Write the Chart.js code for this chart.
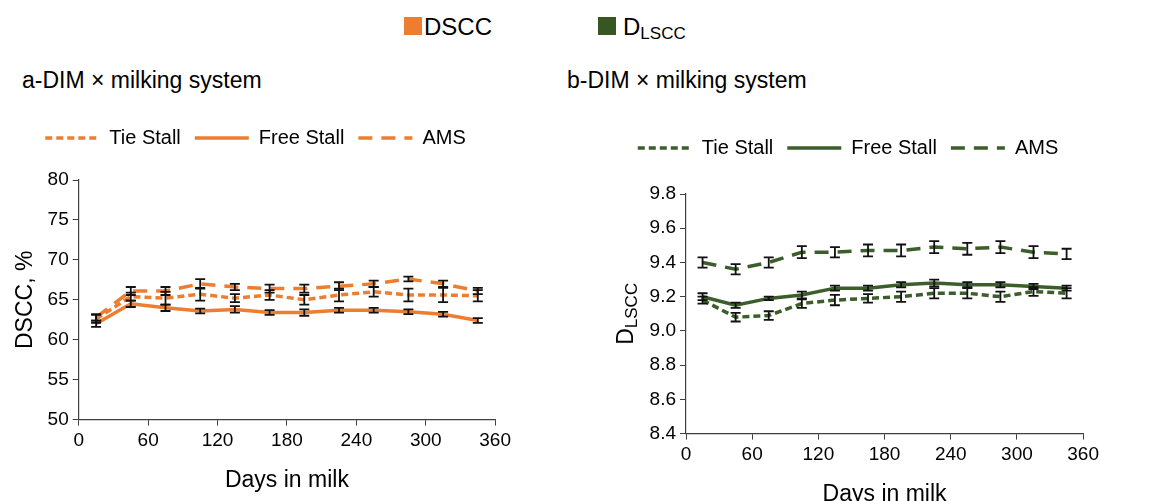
<!DOCTYPE html>
<html>
<head>
<meta charset="utf-8">
<script src="https://cdn.jsdelivr.net/npm/chart.js@4.4.1/dist/chart.umd.min.js"></script>
<style>
  body { margin: 0; background: #fff; font-family: "Liberation Sans", Arial, sans-serif; color: #000; overflow: hidden; }
  #page { position: relative; width: 1161px; height: 501px; overflow: hidden; }
  .box { position: absolute; }
  .sq { position: absolute; width: 18px; height: 18px; }
  .lbl { position: absolute; font-size: 24px; line-height: 24px; }
  .lbl sub { font-size: 17px; vertical-align: -4px; }
  .title { position: absolute; font-size: 23px; line-height: 26px; }
</style>
</head>
<body>
<div id="page">
  <div class="sq" style="left:404px;top:17px;background:#ED7D31"></div>
  <div class="lbl" style="left:424px;top:15px">DSCC</div>
  <div class="sq" style="left:598px;top:17px;background:#375623"></div>
  <div class="lbl" style="left:623px;top:15px">D<sub>LSCC</sub></div>

  <div class="title" style="left:22px;top:67px">a-DIM × milking system</div>
  <div class="title" style="left:567px;top:67px">b-DIM × milking system</div>

  <div class="box" style="left:0px;top:114px;width:515px;height:392px"><canvas id="chartA"></canvas></div>
  <div class="box" style="left:593px;top:124px;width:510px;height:396px"><canvas id="chartB"></canvas></div>
</div>
<script>
// days in milk (midpoints of 30-day intervals)
const dim = [15, 45, 75, 105, 135, 165, 195, 225, 255, 285, 315, 345];
const xTicks = [0, 60, 120, 180, 240, 300, 360];

// a - DSCC, %
const dsccTie  = [62.6, 65.4, 65.2, 65.7, 65.2, 65.6, 65.0, 65.6, 66.0, 65.6, 65.6, 65.5];
const dsccTieSe = [0.5, 0.5, 0.8, 0.8, 0.5, 0.6, 0.6, 0.8, 0.6, 0.8, 0.9, 0.7];
const dsccFree = [62.0, 64.5, 64.0, 63.6, 63.8, 63.4, 63.4, 63.7, 63.7, 63.5, 63.2, 62.4];
const dsccFreeSe = [0.4, 0.4, 0.4, 0.3, 0.4, 0.3, 0.4, 0.3, 0.3, 0.3, 0.3, 0.3];
const dsccAms  = [62.8, 66.1, 66.1, 67.0, 66.6, 66.4, 66.4, 66.7, 67.0, 67.6, 67.0, 66.1];
const dsccAmsSe = [0.4, 0.5, 0.5, 0.6, 0.4, 0.5, 0.5, 0.5, 0.4, 0.3, 0.4, 0.4];

// b - DLSCC
const dlsccTie  = [9.18, 9.08, 9.09, 9.16, 9.18, 9.19, 9.20, 9.22, 9.22, 9.20, 9.23, 9.22];
const dlsccTieSe = [0.02, 0.025, 0.025, 0.025, 0.03, 0.025, 0.03, 0.03, 0.03, 0.03, 0.025, 0.03];
const dlsccFree = [9.20, 9.15, 9.19, 9.21, 9.25, 9.25, 9.27, 9.28, 9.27, 9.27, 9.26, 9.25];
const dlsccFreeSe = [0.02, 0.015, 0.01, 0.02, 0.015, 0.015, 0.015, 0.02, 0.015, 0.015, 0.015, 0.015];
const dlsccAms  = [9.40, 9.36, 9.40, 9.46, 9.46, 9.47, 9.47, 9.49, 9.48, 9.49, 9.46, 9.45];
const dlsccAmsSe = [0.03, 0.03, 0.03, 0.035, 0.03, 0.035, 0.035, 0.035, 0.035, 0.035, 0.035, 0.03];

const orange = '#ED7D31';
const green = '#3B5E2B';
const axisColor = '#404040';
const font = "'Liberation Sans', Arial, sans-serif";

function pts(values) {
    return values.map((v, i) => ({ x: dim[i], y: v }));
}

function makeSet(label, values, se, color, dash) {
    return {
        label: label,
        data: pts(values),
        errors: se,
        borderColor: color,
        backgroundColor: color,
        borderWidth: 3.5,
        borderDash: dash,
        pointRadius: 0,
        pointStyle: 'line',
        tension: 0,
    };
}

// legend lines keep the dash of their dataset
function dashedLabels(chart) {
    const items = Chart.defaults.plugins.legend.labels.generateLabels(chart);
    return items.map(item => {
        const ds = chart.data.datasets[item.datasetIndex];
        item.lineDash = ds.borderDash;
        item.lineWidth = 3.5;
        item.strokeStyle = ds.borderColor;
        return item;
    });
}

// draws the standard error bars with caps
const errorBars = {
    id: 'errorBars',
    afterDatasetsDraw(chart) {
        const ctx = chart.ctx;
        const xs = chart.scales.x;
        const ys = chart.scales.y;
        ctx.save();
        ctx.strokeStyle = '#111';
        ctx.lineWidth = 1.8;
        ctx.setLineDash([]);
        chart.data.datasets.forEach(ds => {
            ds.data.forEach((p, i) => {
                const e = ds.errors[i];
                const px = xs.getPixelForValue(p.x);
                const top = ys.getPixelForValue(p.y + e);
                const bot = ys.getPixelForValue(p.y - e);
                ctx.beginPath();
                ctx.moveTo(px, top); ctx.lineTo(px, bot);
                ctx.moveTo(px - 5, top); ctx.lineTo(px + 5, top);
                ctx.moveTo(px - 5, bot); ctx.lineTo(px + 5, bot);
                ctx.stroke();
            });
        });
        ctx.restore();
    }
};

// extra room under the legend
const legendGap = {
    id: 'legendGap',
    beforeInit(chart) {
        const fit = chart.legend.fit;
        chart.legend.fit = function () {
            fit.bind(chart.legend)();
            this.height += chart.options.plugins.legendGap.gap;
        };
    }
};

// y title with subscript for chart b
const subTitle = {
    id: 'subTitle',
    afterDraw(chart) {
        const opts = chart.options.plugins.subTitle;
        if (!opts || !opts.main) return;
        const ctx = chart.ctx;
        const area = chart.chartArea;
        ctx.save();
        ctx.translate(opts.x, (area.top + area.bottom) / 2);
        ctx.rotate(-Math.PI / 2);
        ctx.fillStyle = '#000';
        ctx.textBaseline = 'alphabetic';
        ctx.font = '23px ' + font;
        const w1 = ctx.measureText(opts.main).width;
        ctx.font = '17px ' + font;
        const w2 = ctx.measureText(opts.sub).width;
        const start = -(w1 + w2) / 2;
        ctx.font = '23px ' + font;
        ctx.fillText(opts.main, start, 8);
        ctx.font = '17px ' + font;
        ctx.fillText(opts.sub, start + w1, 12);
        ctx.restore();
    }
};

function makeOptions(yMin, yMax, yStep, yTitle, gap, padLeft, padRight, decimals, yWidth) {
    return {
        responsive: true,
        maintainAspectRatio: false,
        animation: false,
        layout: { padding: { top: 0, left: padLeft, right: padRight, bottom: 8 } },
        plugins: {
            legend: {
                position: 'top',
                labels: {
                    usePointStyle: true,
                    pointStyle: 'line',
                    pointStyleWidth: 54,
                    boxWidth: 54,
                    boxHeight: 20,
                    padding: 14,
                    color: '#000',
                    font: { family: font, size: 20 },
                    generateLabels: dashedLabels,
                },
            },
            tooltip: { enabled: false },
            legendGap: { gap: gap },
        },
        scales: {
            x: {
                type: 'linear',
                min: 0,
                max: 360,
                afterBuildTicks(axis) { axis.ticks = xTicks.map(v => ({ value: v })); },
                grid: { drawOnChartArea: false, color: axisColor, tickLength: 6 },
                border: { color: axisColor, width: 1.2 },
                ticks: { color: '#000', font: { family: font, size: 19 }, padding: 4, maxRotation: 0 },
                title: { display: true, text: 'Days in milk', color: '#000', font: { family: font, size: 23 }, padding: { top: 10 } },
            },
            y: {
                min: yMin,
                max: yMax,
                afterFit(axis) { if (yWidth) axis.width = yWidth; },
                ticks: {
                    stepSize: yStep,
                    color: '#000',
                    font: { family: font, size: 19 },
                    padding: 4,
                    callback: v => v.toFixed(decimals),
                },
                grid: { drawOnChartArea: false, color: axisColor, tickLength: 6 },
                border: { color: axisColor, width: 1.2 },
                title: { display: !!yTitle, text: yTitle, color: '#000', font: { family: font, size: 23 }, padding: { bottom: 4 } },
            },
        },
    };
}

const optsA = makeOptions(50, 80, 5, 'DSCC, %', 22, 8, 12, 0, 0);
new Chart(document.getElementById('chartA'), {
    type: 'line',
    data: {
        datasets: [
            makeSet('Tie Stall', dsccTie, dsccTieSe, orange, [7, 4]),
            makeSet('Free Stall', dsccFree, dsccFreeSe, orange, []),
            makeSet('AMS', dsccAms, dsccAmsSe, orange, [14, 9]),
        ],
    },
    options: optsA,
    plugins: [errorBars, legendGap],
});

const optsB = makeOptions(8.4, 9.8, 0.2, '', 26, 0, 0, 1, 93);
optsB.plugins.subTitle = { main: 'D', sub: 'LSCC', x: 32 };
new Chart(document.getElementById('chartB'), {
    type: 'line',
    data: {
        datasets: [
            makeSet('Tie Stall', dlsccTie, dlsccTieSe, green, [7, 4]),
            makeSet('Free Stall', dlsccFree, dlsccFreeSe, green, []),
            makeSet('AMS', dlsccAms, dlsccAmsSe, green, [14, 9]),
        ],
    },
    options: optsB,
    plugins: [errorBars, legendGap, subTitle],
});
</script>
</body>
</html>
